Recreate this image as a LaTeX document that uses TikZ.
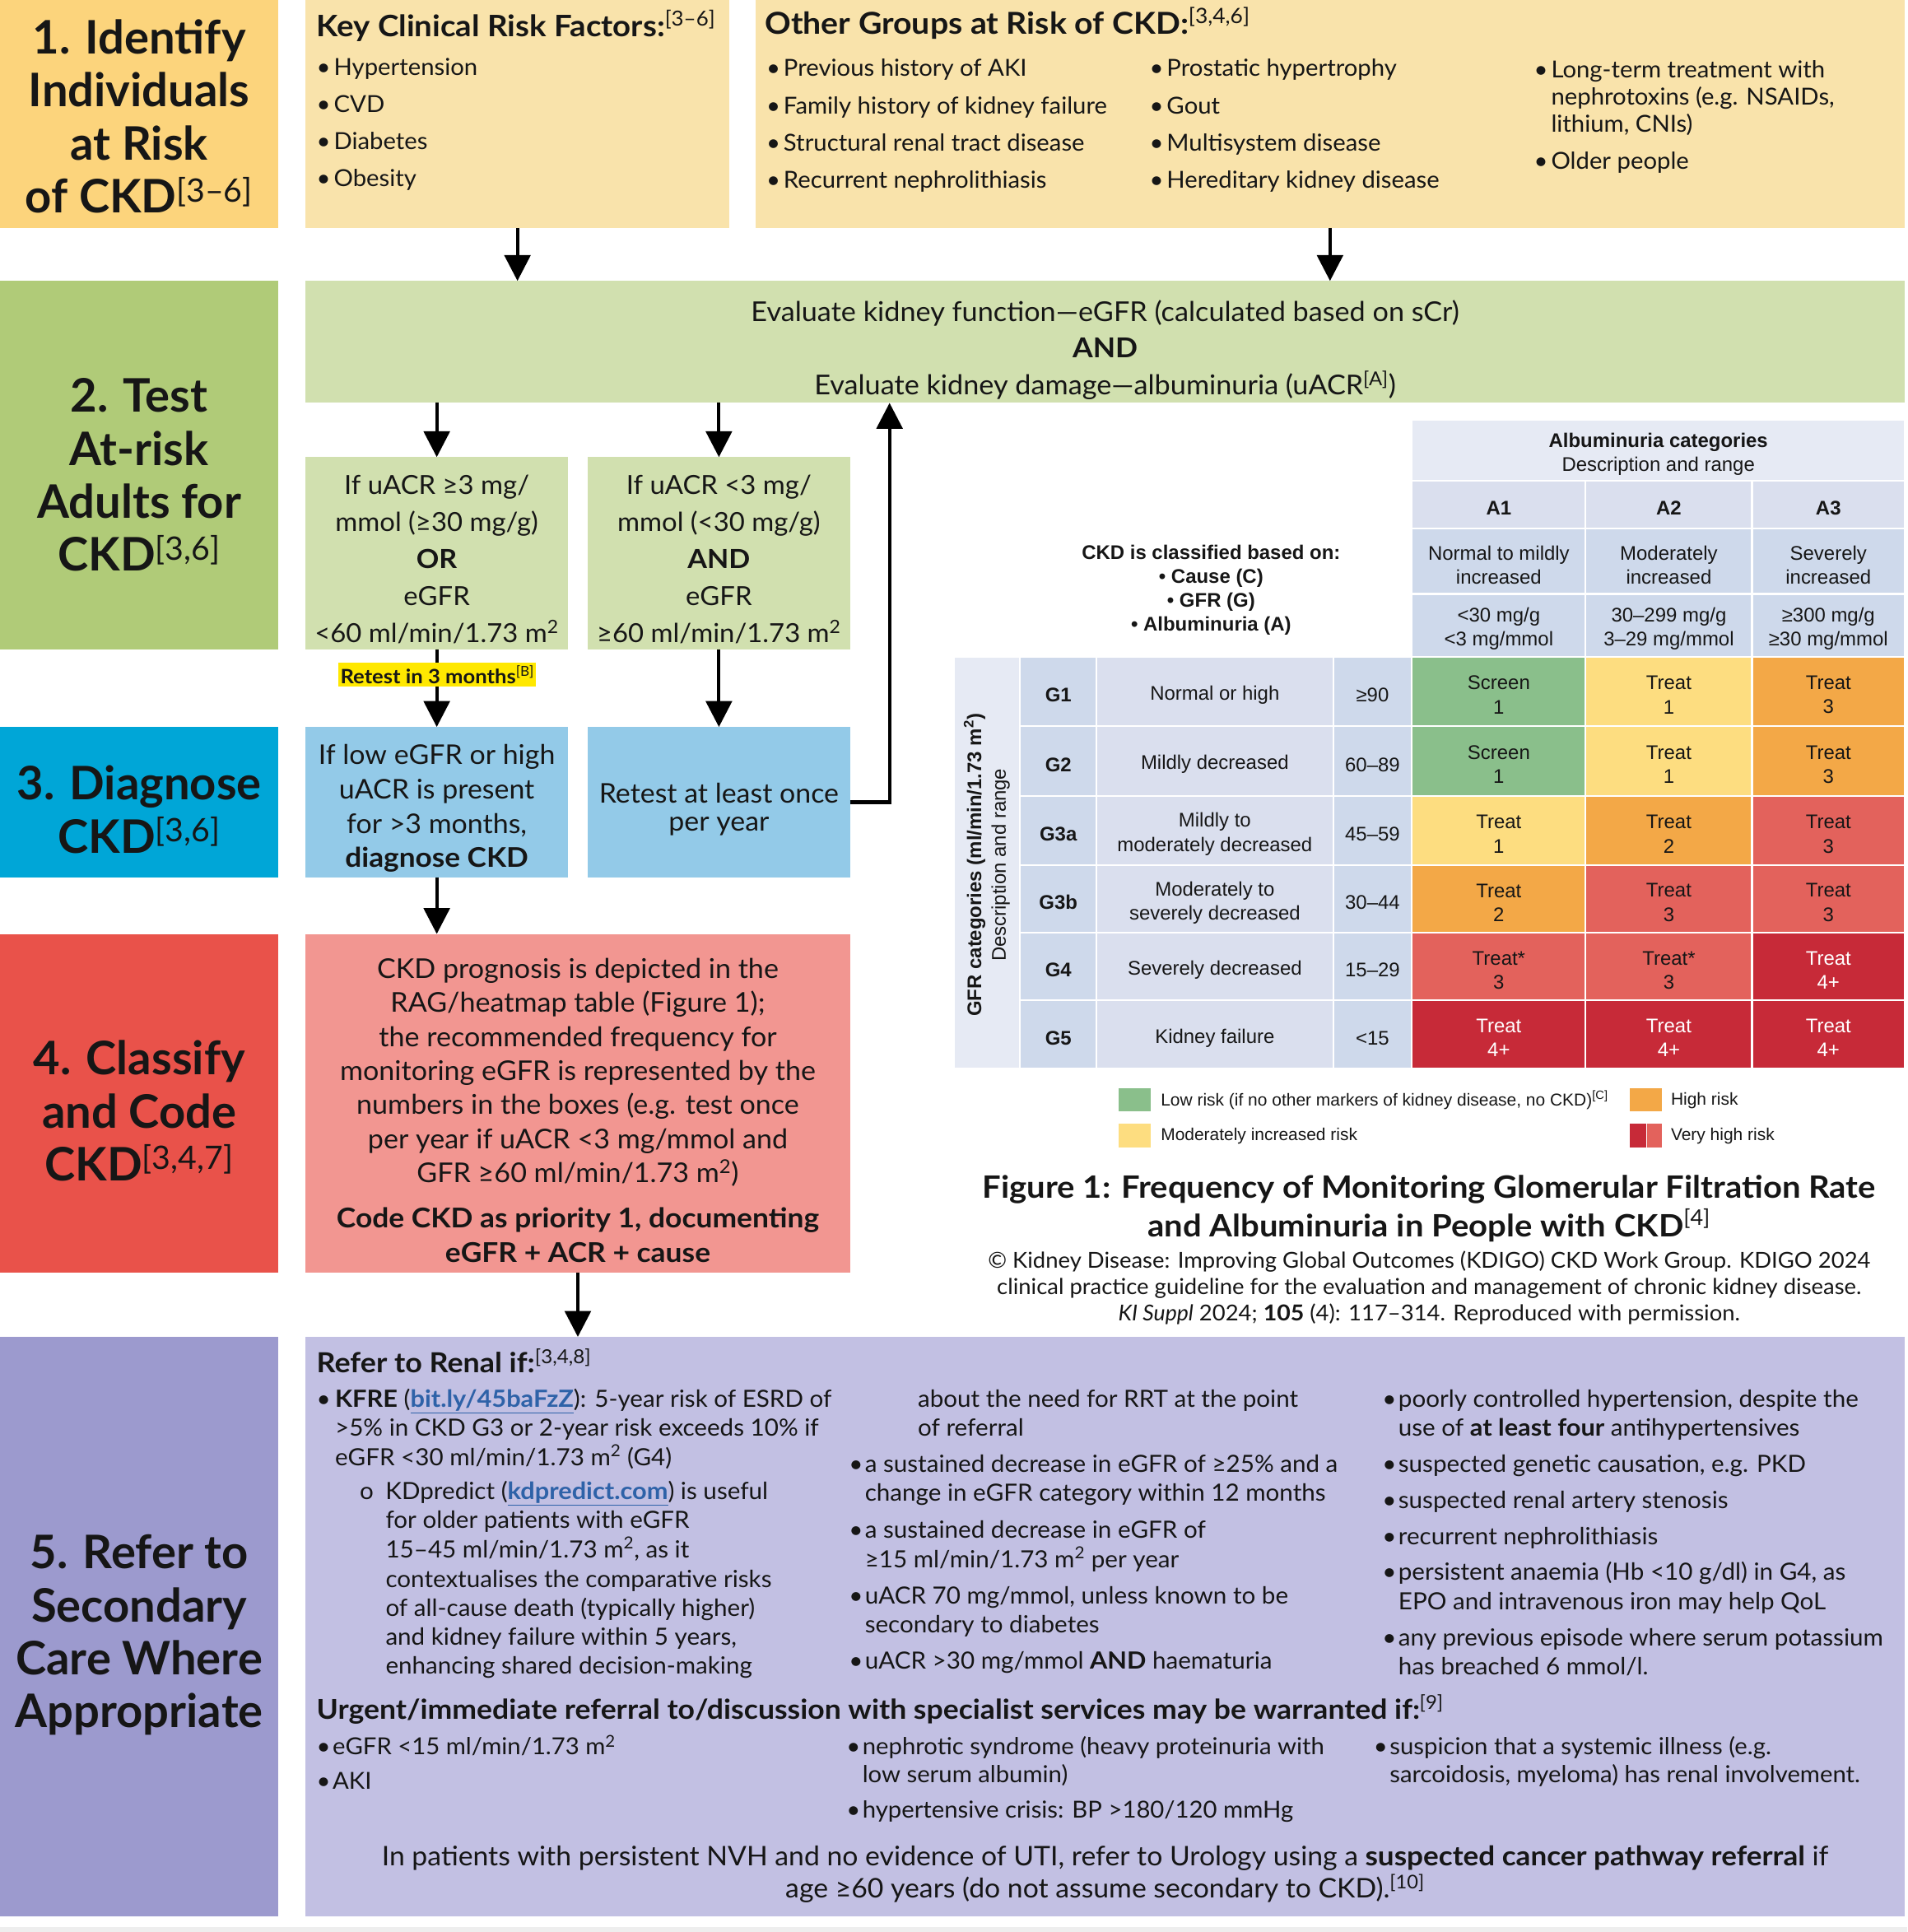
\documentclass[tikz,border=0pt]{standalone}
\usepackage{fontspec}
\setmainfont{Lato}[UprightFeatures={FakeStretch=1.03},BoldFeatures={FakeStretch=1.07}]
\newfontfamily\labf{Lato}
\newfontfamily\tabf{Liberation Sans}
\usetikzlibrary{arrows.meta}
\definecolor{yA}{RGB}{252,212,124}
\definecolor{yB}{RGB}{249,227,171}
\definecolor{gA}{RGB}{176,203,120}
\definecolor{gB}{RGB}{209,224,175}
\definecolor{bA}{RGB}{0,166,215}
\definecolor{bB}{RGB}{147,202,232}
\definecolor{rA}{RGB}{233,82,74}
\definecolor{rB}{RGB}{242,150,145}
\definecolor{pA}{RGB}{156,154,206}
\definecolor{pB}{RGB}{194,192,227}
\definecolor{hl}{RGB}{255,232,0}
\definecolor{link}{RGB}{46,98,168}
\definecolor{tH}{RGB}{230,234,244}
\definecolor{tM}{RGB}{218,223,238}
\definecolor{tD}{RGB}{206,217,235}
\definecolor{cG}{RGB}{138,191,139}
\definecolor{cY}{RGB}{253,221,128}
\definecolor{cO}{RGB}{243,168,71}
\definecolor{cR}{RGB}{227,98,92}
\definecolor{cD}{RGB}{199,42,56}
\definecolor{ink}{RGB}{22,22,22}
\definecolor{strip}{RGB}{238,238,238}
\newcommand{\fs}[2]{\fontsize{#1}{#2}\selectfont}
\newcommand{\rf}[1]{\textsuperscript{\mdseries[#1]}}
\newcommand{\msq}{m\textsuperscript{2}}
\newcommand{\lnk}[1]{\textcolor{link}{\underline{\textbf{#1}}}}
\newcommand{\blt}[1]{\makebox[#1][l]{\textbullet}}
\newcommand{\bA}{\blt{14pt}}
\newcommand{\bB}{\blt{13pt}}
\newcommand{\bC}{\blt{15pt}}
\newcommand{\iB}{\hspace*{13pt}}
\newcommand{\iC}{\hspace*{15pt}}
\newcommand{\iS}{\hspace*{56pt}}
\newcommand{\blk}[6]{\node[blk,fill=#6,minimum width={(#4-#2)*1pt},minimum height={(#5-#3)*1pt}] (#1) at ({(#2+#4)/2},{(#3+#5)/2}) {};}
\newcommand{\cel}[7]{\node[cbg,fill=#6,minimum width={(#4-#2)*1pt},minimum height={(#5-#3)*1pt}] (#1) at ({(#2+#4)/2},{(#3+#5)/2}) {};
 \node[ctxt] (#1t) at ([yshift=-3pt]#1.center) {#7};}
\newcommand{\celw}[7]{\node[cbg,fill=#6,minimum width={(#4-#2)*1pt},minimum height={(#5-#3)*1pt}] (#1) at ({(#2+#4)/2},{(#3+#5)/2}) {};
 \node[ctxt,text=white] (#1t) at ([yshift=-3pt]#1.center) {#7};}
\tikzset{
 blk/.style={rectangle,inner sep=0pt,outer sep=0pt,draw=none},
 cbg/.style={rectangle,inner sep=0pt,outer sep=0pt,draw=white,line width=1.4pt},
 ctxt/.style={inner sep=0pt,align=center,font=\tabf\fs{16}{19.5},text=ink},
 lab/.style={align=center,font=\labf\bfseries\fs{37.5}{43},text=ink,inner sep=0pt},
 txt/.style={inner sep=0pt,outer sep=0pt,text=ink,anchor=base west},
 ctr/.style={inner sep=0pt,align=center,text=ink},
 arr/.style={line width=2.8pt,-{Triangle[width=21pt,length=21pt]}},
}
\begin{document}
\begin{tikzpicture}[x=1pt,y=-1pt]
\useasboundingbox (0,0) rectangle (1548,1568);
\fill[strip] (0,1564) rectangle (1548,1568);
% ---------- row backgrounds ----------
\blk{s1}{0}{0}{226}{185}{yA}
\blk{kcr}{248}{0}{592}{185}{yB}
\blk{oth}{613}{0}{1546}{185}{yB}
\blk{s2}{0}{228}{226}{527}{gA}
\blk{ev}{248}{228}{1546}{327}{gB}
\blk{cl}{248}{371}{461}{527}{gB}
\blk{cr}{477}{371}{690}{527}{gB}
\blk{s3}{0}{590}{226}{712}{bA}
\blk{dg}{248}{590}{461}{712}{bB}
\blk{rt}{477}{590}{690}{712}{bB}
\blk{s4}{0}{758}{226}{1033}{rA}
\blk{cf}{248}{758}{690}{1033}{rB}
\blk{s5}{0}{1085}{226}{1555}{pA}
\blk{rfb}{248}{1085}{1546}{1555}{pB}
% ---------- step labels ----------
\node[lab] (t1) at ([yshift=-2pt]s1.center) {1. Identify\\Individuals\\at Risk\\of CKD\rf{3–6}};
\node[lab] (t2) at ([yshift=-8pt]s2.center) {2. Test\\At-risk\\Adults for\\CKD\rf{3,6}};
\node[lab] (t3) at ([yshift=-6pt]s3.center) {3. Diagnose\\CKD\rf{3,6}};
\node[lab] (t4) at ([yshift=-6pt]s4.center) {4. Classify\\and Code\\CKD\rf{3,4,7}};
\node[lab] (t5) at ([yshift=-7pt]s5.center) {5. Refer to\\Secondary\\Care Where\\Appropriate};
% ---------- top boxes ----------
\node[txt,font=\bfseries\fs{24}{28}] (kh) at (257,30) {Key Clinical Risk Factors:\rf{3–6}};
\node[txt,font=\fs{19}{30}] (kl) at (257,61) {\begin{tabular}[t]{@{}l@{}}
\bA Hypertension\\ \bA CVD\\ \bA Diabetes\\ \bA Obesity\end{tabular}};
\node[txt,font=\bfseries\fs{24.5}{28}] (oh) at (621,28) {Other Groups at Risk of CKD:\rf{3,4,6}};
\node[txt,font=\fs{19}{30.3}] (o1) at (622,62) {\begin{tabular}[t]{@{}l@{}}
\bA Previous history of AKI\\ \bA Family history of kidney failure\\ \bA Structural renal tract disease\\ \bA Recurrent nephrolithiasis\end{tabular}};
\node[txt,font=\fs{19}{30.3}] (o2) at (933,62) {\begin{tabular}[t]{@{}l@{}}
\bA Prostatic hypertrophy\\ \bA Gout\\ \bA Multisystem disease\\ \bA Hereditary kidney disease\end{tabular}};
\node[txt,font=\fs{19}{22}] (o3) at (1245,63) {\begin{tabular}[t]{@{}l@{}}
\bA Long-term treatment with\\ \hspace*{14pt}nephrotoxins (e.g. NSAIDs,\\ \hspace*{14pt}lithium, CNIs)\\[8pt] \bA Older people\end{tabular}};
% ---------- test boxes ----------
\node[ctr,font=\fs{22.2}{30}] (evt) at (897,284) {Evaluate kidney function—eGFR (calculated based on sCr)\\\textbf{AND}\\Evaluate kidney damage—albuminuria (uACR\rf{A})};
\node[ctr,font=\fs{21.3}{30}] (clt) at (354.5,454) {If uACR ≥3 mg/\\mmol (≥30 mg/g)\\\textbf{OR}\\eGFR\\<60 ml/min/1.73 \msq};
\node[ctr,font=\fs{21.3}{30}] (crt) at (583.5,454) {If uACR <3 mg/\\mmol (<30 mg/g)\\\textbf{AND}\\eGFR\\≥60 ml/min/1.73 \msq};
\node[ctr,font=\fs{22}{28}] (dgt) at (354.5,656) {If low eGFR or high\\uACR is present\\for >3 months,\\\textbf{diagnose CKD}};
\node[ctr,font=\fs{22}{23}] (rtt) at (583.5,657) {Retest at least once\\per year};
\node[ctr,font=\fs{22.1}{27.7}] (cft) at (469,901) {CKD prognosis is depicted in the\\RAG/heatmap table (Figure 1);\\the recommended frequency for\\monitoring eGFR is represented by the\\numbers in the boxes (e.g. test once\\per year if uACR <3 mg/mmol and\\GFR ≥60 ml/min/1.73 \msq)\\[9pt]\textbf{Code CKD as priority 1, documenting}\\\textbf{eGFR + ACR + cause}};
% ---------- arrows ----------
\draw[arr] (kcr.south) -- (kcr.south |- ev.north);
\draw[arr] (oth.south) -- (oth.south |- ev.north);
\draw[arr] (ev.south -| cl.north) -- (cl.north);
\draw[arr] (ev.south -| cr.north) -- (cr.north);
\draw[arr] (cl.south) -- (dg.north);
\draw[arr] (cr.south) -- (rt.north);
\draw[arr] (dg.south) -- (dg.south |- cf.north);
\draw[arr] (cf.south) -- (cf.south |- rfb.north);
\coordinate (lp) at (722,0);
\draw[arr] (rt.east) -| (lp |- ev.south);
\node[fill=hl,inner xsep=1.5pt,inner ysep=0pt,minimum height=19pt,text=ink,font=\bfseries\fs{16}{18}] (rtl) at (355,547.5) {Retest in 3 months\rf{B}};
% ---------- table ----------
\cel{alb}{1146}{341}{1546}{390}{tH}{\textbf{Albuminuria categories}\\Description and range}
\cel{a1}{1146}{390}{1287}{429}{tM}{\textbf{A1}}
\cel{a2}{1287}{390}{1422}{429}{tM}{\textbf{A2}}
\cel{a3}{1422}{390}{1546}{429}{tM}{\textbf{A3}}
\cel{a1d}{1146}{429}{1287}{482}{tD}{Normal to mildly\\increased}
\cel{a2d}{1287}{429}{1422}{482}{tD}{Moderately\\increased}
\cel{a3d}{1422}{429}{1546}{482}{tD}{Severely\\increased}
\cel{a1r}{1146}{482}{1287}{533}{tD}{<30 mg/g\\<3 mg/mmol}
\cel{a2r}{1287}{482}{1422}{533}{tD}{30–299 mg/g\\3–29 mg/mmol}
\cel{a3r}{1422}{482}{1546}{533}{tD}{≥300 mg/g\\≥30 mg/mmol}
\node[ctr,font=\tabf\bfseries\fs{16}{19.5}] (cls) at (983,479) {CKD is classified based on:\\\textbullet\ Cause (C)\\\textbullet\ GFR (G)\\\textbullet\ Albuminuria (A)};
\node[cbg,fill=tH,minimum width=54pt,minimum height=334pt] (vl) at (801,700) {};
\node[ctr,rotate=90,font=\tabf\fs{16}{20}] (vlt) at (801,702) {\textbf{GFR categories (ml/min/1.73 m\textsuperscript{2})}\\Description and range};
% G1
\cel{g1}{828}{533}{890}{589}{tD}{\textbf{G1}}
\cel{g1d}{890}{533}{1082}{589}{tM}{Normal or high}
\cel{g1r}{1082}{533}{1146}{589}{tD}{≥90}
\cel{g1a}{1146}{533}{1287}{589}{cG}{Screen\\1}
\cel{g1b}{1287}{533}{1422}{589}{cY}{Treat\\1}
\cel{g1c}{1422}{533}{1546}{589}{cO}{Treat\\3}
% G2
\cel{g2}{828}{589}{890}{646}{tD}{\textbf{G2}}
\cel{g2d}{890}{589}{1082}{646}{tM}{Mildly decreased}
\cel{g2r}{1082}{589}{1146}{646}{tD}{60–89}
\cel{g2a}{1146}{589}{1287}{646}{cG}{Screen\\1}
\cel{g2b}{1287}{589}{1422}{646}{cY}{Treat\\1}
\cel{g2c}{1422}{589}{1546}{646}{cO}{Treat\\3}
% G3a
\cel{g3}{828}{646}{890}{702}{tD}{\textbf{G3a}}
\cel{g3d}{890}{646}{1082}{702}{tM}{Mildly to\\moderately decreased}
\cel{g3r}{1082}{646}{1146}{702}{tD}{45–59}
\cel{g3a}{1146}{646}{1287}{702}{cY}{Treat\\1}
\cel{g3b}{1287}{646}{1422}{702}{cO}{Treat\\2}
\cel{g3c}{1422}{646}{1546}{702}{cR}{Treat\\3}
% G3b
\cel{g4}{828}{702}{890}{757}{tD}{\textbf{G3b}}
\cel{g4d}{890}{702}{1082}{757}{tM}{Moderately to\\severely decreased}
\cel{g4r}{1082}{702}{1146}{757}{tD}{30–44}
\cel{g4a}{1146}{702}{1287}{757}{cO}{Treat\\2}
\cel{g4b}{1287}{702}{1422}{757}{cR}{Treat\\3}
\cel{g4c}{1422}{702}{1546}{757}{cR}{Treat\\3}
% G4
\cel{g5}{828}{757}{890}{812}{tD}{\textbf{G4}}
\cel{g5d}{890}{757}{1082}{812}{tM}{Severely decreased}
\cel{g5r}{1082}{757}{1146}{812}{tD}{15–29}
\cel{g5a}{1146}{757}{1287}{812}{cR}{Treat*\\3}
\cel{g5b}{1287}{757}{1422}{812}{cR}{Treat*\\3}
\celw{g5c}{1422}{757}{1546}{812}{cD}{Treat\\4+}
% G5
\cel{g6}{828}{812}{890}{867}{tD}{\textbf{G5}}
\cel{g6d}{890}{812}{1082}{867}{tM}{Kidney failure}
\cel{g6r}{1082}{812}{1146}{867}{tD}{<15}
\celw{g6a}{1146}{812}{1287}{867}{cD}{Treat\\4+}
\celw{g6b}{1287}{812}{1422}{867}{cD}{Treat\\4+}
\celw{g6c}{1422}{812}{1546}{867}{cD}{Treat\\4+}
% ---------- legend ----------
\blk{lg1}{908}{883}{934}{902}{cG}
\blk{lg2}{908}{912}{934}{931}{cY}
\blk{lg3}{1323}{883}{1349}{902}{cO}
\blk{lg4}{1323}{912}{1336}{931}{cD}
\blk{lg5}{1337}{912}{1349}{931}{cR}
\node[inner sep=0pt,anchor=west,text=ink,font=\tabf\fs{14}{16}] (lt1) at (942,893) {Low risk (if no other markers of kidney disease, no CKD)\textsuperscript{[C]}};
\node[inner sep=0pt,anchor=west,text=ink,font=\tabf\fs{14}{16}] (lt2) at (942,922) {Moderately increased risk};
\node[inner sep=0pt,anchor=west,text=ink,font=\tabf\fs{14}{16}] (lt3) at (1356,893) {High risk};
\node[inner sep=0pt,anchor=west,text=ink,font=\tabf\fs{14}{16}] (lt4) at (1356,922) {Very high risk};
\node[ctr,font=\bfseries\fs{25}{31}] (figt) at (1160,981) {Figure 1: Frequency of Monitoring Glomerular Filtration Rate\\and Albuminuria in People with CKD\rf{4}};
\node[ctr,font=\fs{17.8}{21.5}] (figc) at (1160,1045) {© Kidney Disease: Improving Global Outcomes (KDIGO) CKD Work Group. KDIGO 2024\\clinical practice guideline for the evaluation and management of chronic kidney disease.\\\textit{KI Suppl} 2024; \textbf{105} (4): 117–314. Reproduced with permission.};
% ---------- refer section ----------
\node[txt,font=\bfseries\fs{22.4}{26}] (rh) at (257,1114) {Refer to Renal if:\rf{3,4,8}};
\node[txt,font=\fs{19.2}{23.5}] (rc1) at (257,1142) {\begin{tabular}[t]{@{}l@{}}
\bC\textbf{KFRE} (\lnk{bit.ly/45baFzZ}): 5-year risk of ESRD of\\
\iC>5\% in CKD G3 or 2-year risk exceeds 10\% if\\
\iC eGFR <30 ml/min/1.73 \msq{} (G4)\\[3.5pt]
\hspace*{35pt}\makebox[21pt][l]{o}KDpredict (\lnk{kdpredict.com}) is useful\\
\iS for older patients with eGFR\\
\iS 15–45 ml/min/1.73 \msq, as it\\
\iS contextualises the comparative risks\\
\iS of all-cause death (typically higher)\\
\iS and kidney failure within 5 years,\\
\iS enhancing shared decision-making\end{tabular}};
\node[txt,font=\fs{19.2}{23.5}] (rc2) at (689,1142) {\begin{tabular}[t]{@{}l@{}}
\iS about the need for RRT at the point\\
\iS of referral\\[6pt]
\bB a sustained decrease in eGFR of ≥25\% and a\\
\iB change in eGFR category within 12 months\\[6pt]
\bB a sustained decrease in eGFR of\\
\iB ≥15 ml/min/1.73 \msq{} per year\\[6pt]
\bB uACR 70 mg/mmol, unless known to be\\
\iB secondary to diabetes\\[6pt]
\bB uACR >30 mg/mmol \textbf{AND} haematuria\end{tabular}};
\node[txt,font=\fs{19.2}{23.5}] (rc3) at (1122,1142) {\begin{tabular}[t]{@{}l@{}}
\bB poorly controlled hypertension, despite the\\
\iB use of \textbf{at least four} antihypertensives\\[5.8pt]
\bB suspected genetic causation, e.g. PKD\\[5.8pt]
\bB suspected renal artery stenosis\\[5.8pt]
\bB recurrent nephrolithiasis\\[5.8pt]
\bB persistent anaemia (Hb <10 g/dl) in G4, as\\
\iB EPO and intravenous iron may help QoL\\[5.8pt]
\bB any previous episode where serum potassium\\
\iB has breached 6 mmol/l.\end{tabular}};
\node[txt,font=\bfseries\fs{22.2}{26}] (uh) at (257,1395) {Urgent/immediate referral to/discussion with specialist services may be warranted if:\rf{9}};
\node[txt,font=\fs{19}{22.5}] (u1) at (257,1424) {\begin{tabular}[t]{@{}l@{}}
\bB eGFR <15 ml/min/1.73 \msq\\[5.5pt]
\bB AKI\end{tabular}};
\node[txt,font=\fs{19}{22.5}] (u2) at (687,1424) {\begin{tabular}[t]{@{}l@{}}
\bB nephrotic syndrome (heavy proteinuria with\\
\iB low serum albumin)\\[6.5pt]
\bB hypertensive crisis: BP >180/120 mmHg\end{tabular}};
\node[txt,font=\fs{19}{22.5}] (u3) at (1115,1424) {\begin{tabular}[t]{@{}l@{}}
\bB suspicion that a systemic illness (e.g.\\
\iB sarcoidosis, myeloma) has renal involvement.\end{tabular}};
\node[ctr,font=\fs{21.9}{26}] (fin) at (897,1521) {In patients with persistent NVH and no evidence of UTI, refer to Urology using a \textbf{suspected cancer pathway referral} if\\age ≥60 years (do not assume secondary to CKD).\rf{10}};
\end{tikzpicture}
\end{document}
